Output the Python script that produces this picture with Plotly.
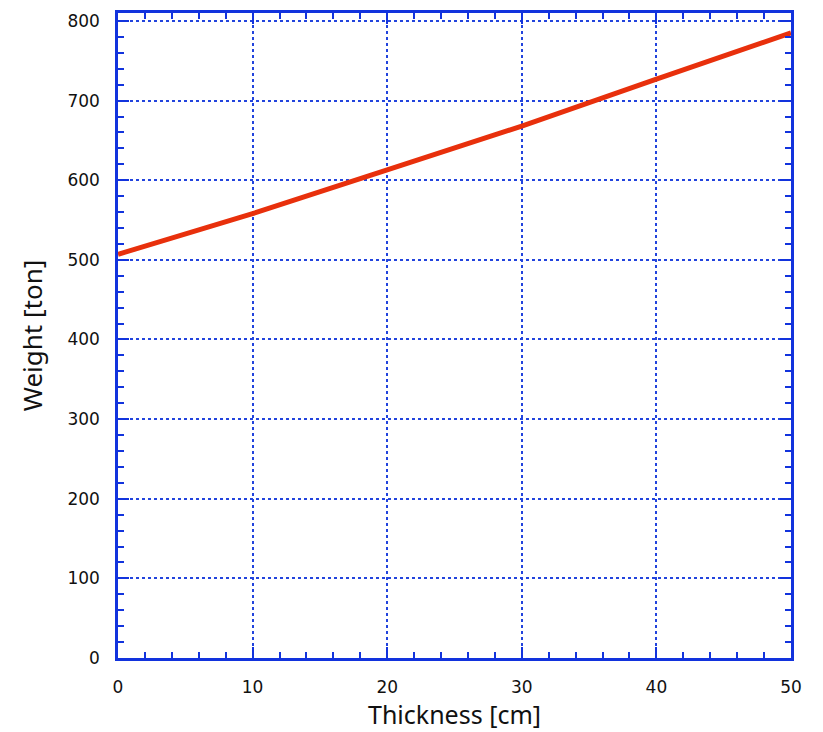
import plotly.graph_objects as go

# Weight of the structure versus shield thickness
thickness_cm = [0, 10, 20, 30, 40, 50]
weight_ton = [507, 558, 613, 668, 727, 785]

x_ticks = [0, 10, 20, 30, 40, 50]
y_ticks = [0, 100, 200, 300, 400, 500, 600, 700, 800]

AXIS_BLUE = "#1233dd"
GRID_BLUE = "#2244dd"
TICK_FONT = "DejaVu Sans, sans-serif"
TITLE_FONT = "Noto Sans, Open Sans, sans-serif"

fig = go.Figure()
fig.add_trace(go.Scatter(
    x=thickness_cm, y=weight_ton, mode="lines",
    line=dict(color="#e8300c", width=5),
    hoverinfo="x+y", showlegend=False,
))

axis_common = dict(
    showline=True, linecolor=AXIS_BLUE, linewidth=2.5, mirror="allticks",
    ticks="inside", ticklen=11, tickwidth=2, tickcolor=AXIS_BLUE,
    showgrid=True, gridcolor=GRID_BLUE, gridwidth=2, griddash="dot",
    zeroline=False,
    tickfont=dict(family=TICK_FONT, size=17, color="#111111"),
)

fig.update_xaxes(
    **axis_common,
    ticklabelstandoff=12,
    range=[0, 50], tickmode="array", tickvals=x_ticks,
    ticktext=[str(v) for v in x_ticks],
    minor=dict(dtick=2, ticks="inside", ticklen=6, tickwidth=2,
               tickcolor=AXIS_BLUE, showgrid=False),
    title=dict(text="Thickness [cm]", font=dict(family=TITLE_FONT, size=25, color="#111111"),
               standoff=4),
)
fig.update_yaxes(
    **axis_common,
    ticklabelstandoff=12,
    range=[0, 810], tickmode="array", tickvals=y_ticks,
    ticktext=[str(v) for v in y_ticks],
    minor=dict(dtick=20, ticks="inside", ticklen=6, tickwidth=2,
               tickcolor=AXIS_BLUE, showgrid=False),
    title=dict(text="Weight [ton]", font=dict(family=TITLE_FONT, size=26, color="#111111"),
               standoff=18),
)

fig.update_layout(
    width=823, height=732,
    margin=dict(l=118, r=32, t=10, b=74),
    plot_bgcolor="white", paper_bgcolor="white",
)

fig.write_html("out.html")
